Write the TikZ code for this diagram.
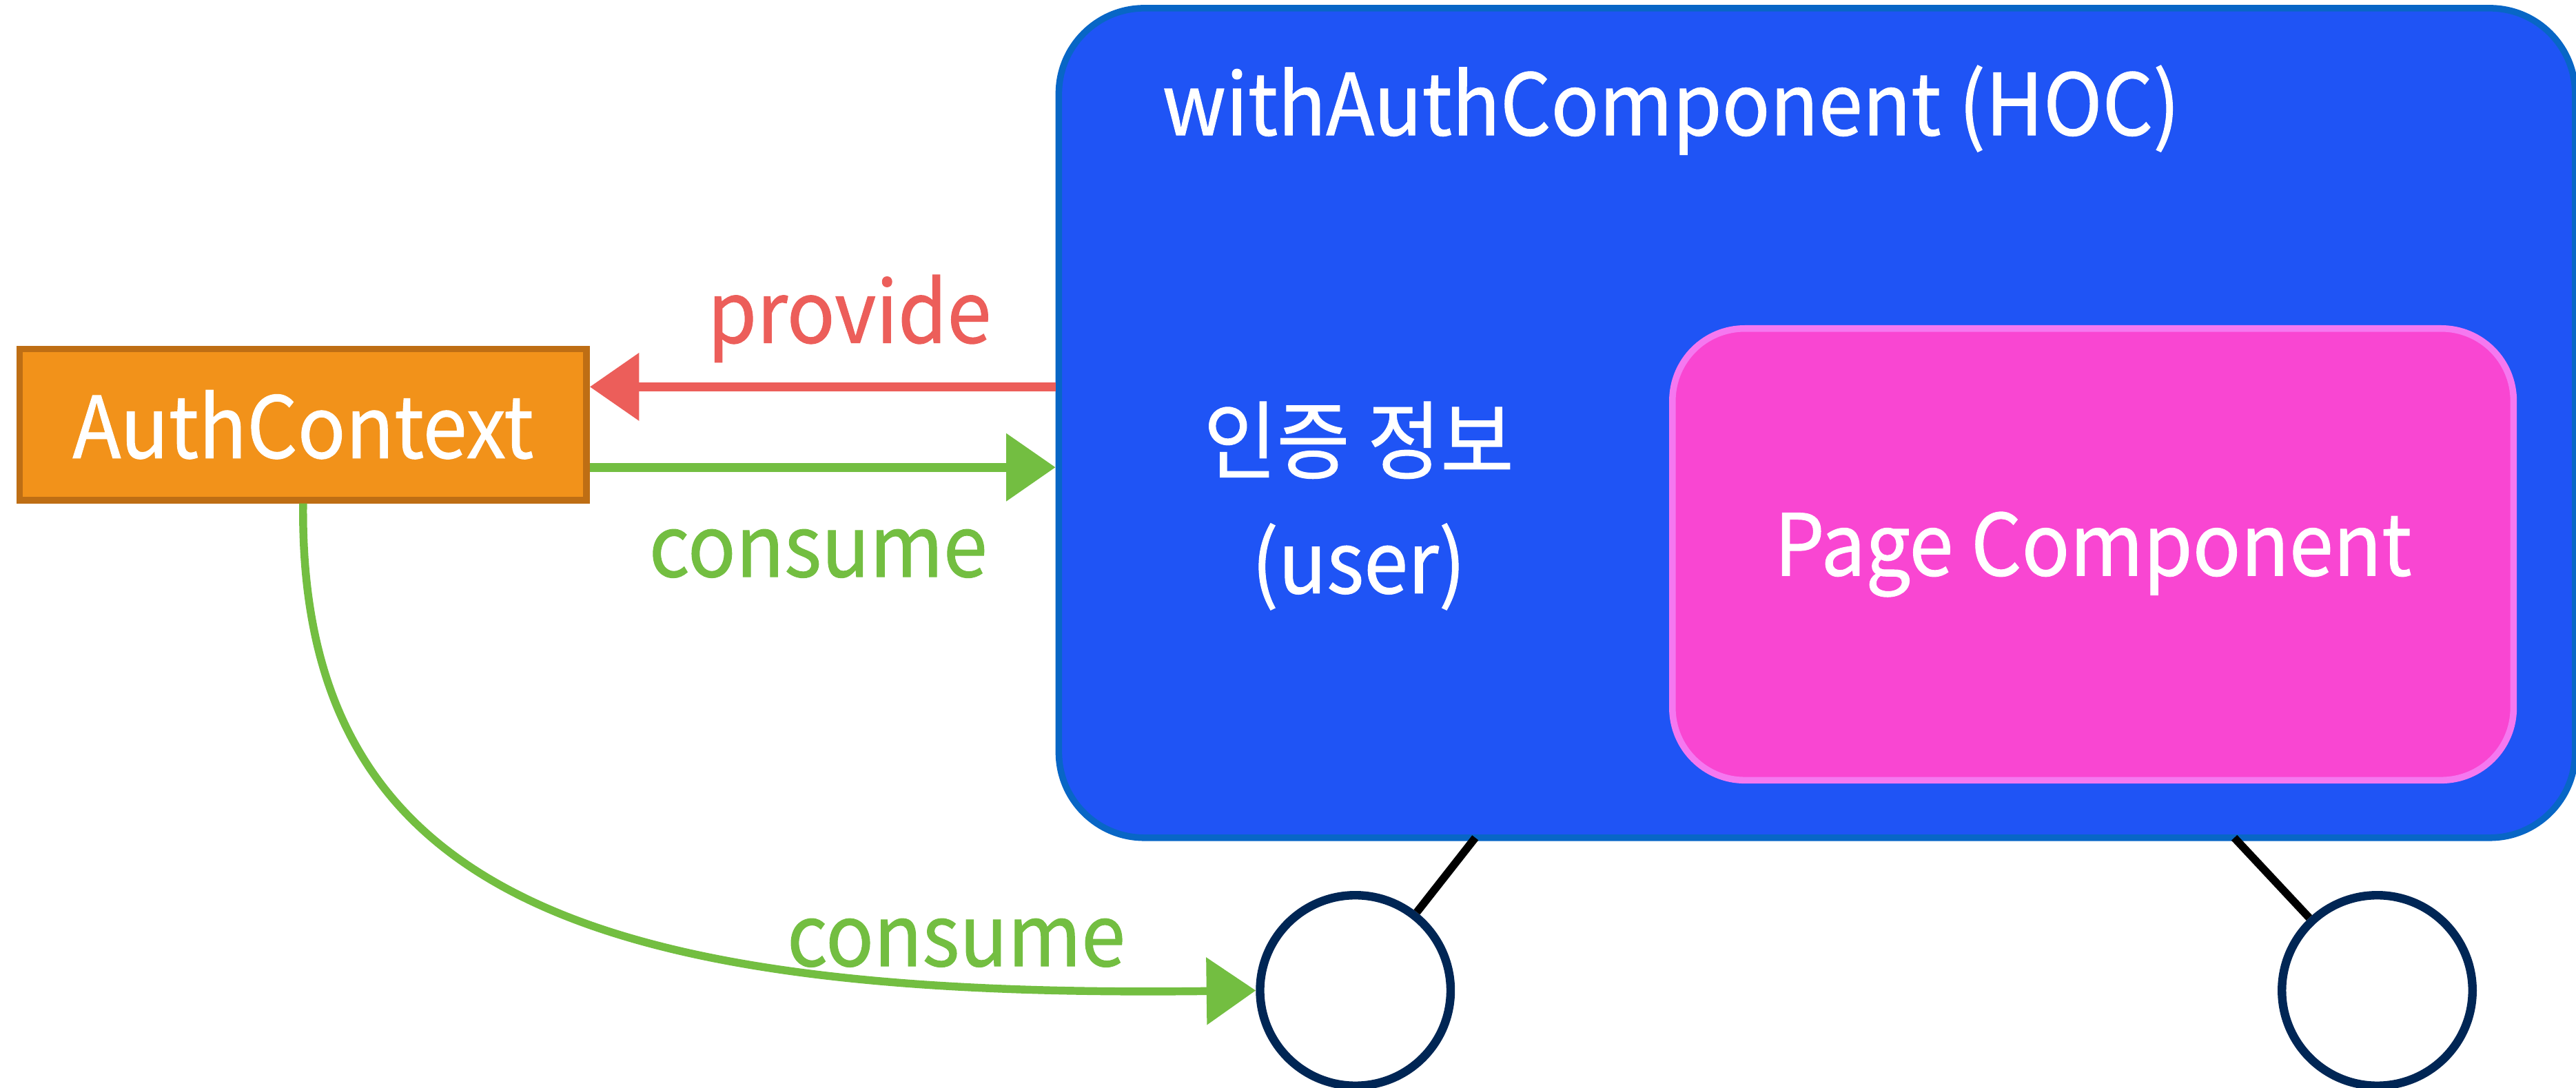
\documentclass[tikz,border=0pt]{standalone}
\usepackage{fontspec}
\setmainfont{Noto Sans CJK KR}[FakeStretch=0.93, FakeBold=0.8]
\usepackage{xcolor}
\usetikzlibrary{arrows.meta}

\definecolor{hocBlue}{RGB}{31,84,245}
\definecolor{hocEdge}{RGB}{8,102,198}
\definecolor{pagePink}{RGB}{249,70,210}
\definecolor{pageEdge}{RGB}{245,120,240}
\definecolor{ctxOrange}{RGB}{242,146,26}
\definecolor{ctxEdge}{RGB}{190,110,20}
\definecolor{provideRed}{RGB}{236,94,90}
\definecolor{consumeGreen}{RGB}{115,190,65}
\definecolor{wheelNavy}{RGB}{0,38,85}

\newcommand{\lblsize}{\fontsize{13}{16}\selectfont}

\tikzset{every picture/.style={line width=0.75pt}}
\tikzset{
  hocbox/.style={draw=hocEdge, fill=hocBlue, line width=1pt, rounded corners=13pt},
  pagebox/.style={draw=pageEdge, fill=pagePink, line width=1pt, rounded corners=11pt, text=white, font=\lblsize},
  ctxbox/.style={draw=ctxEdge, fill=ctxOrange, line width=1pt, text=white, font=\lblsize},
  textlbl/.style={inner sep=0pt, font=\lblsize},
  wheel/.style={circle, draw=wheelNavy, line width=1.3pt, minimum size=29pt, inner sep=0pt},
  providearrow/.style={draw=provideRed, line width=1.4pt, -{Triangle[length=7.5pt,width=10pt]}},
  consumearrow/.style={draw=consumeGreen, line width=1.4pt, -{Triangle[length=7.5pt,width=10pt]}},
  axle/.style={draw=black, line width=1.2pt}
}

\begin{document}
\begin{tikzpicture}[x=0.25pt,y=0.25pt,yscale=-1,xscale=1]
\useasboundingbox (0,0) rectangle (1568,662);

% HOC wrapper and the page inside it
\node[hocbox, minimum width=230.75pt, minimum height=126.25pt] (hoc) at (1106,257.5) {};
\node[pagebox, minimum width=128pt, minimum height=68.75pt] (page) at (1274,337.5) {Page Component};

% context box
\node[ctxbox, minimum width=86.25pt, minimum height=23pt] (ctx) at (184.5,258.5) {AuthContext};

% wheels
\node[wheel] (wheelL) at (825,603) {};
\node[wheel] (wheelR) at (1447,603) {};
\coordinate (axleL) at (898,510);
\coordinate (axleR) at (1360,510);
\draw[axle] (axleL) -- (wheelL);
\draw[axle] (axleR) -- (wheelR);

% provide / consume arrows (yshift follows yscale=-1)
\coordinate (provTip) at ([yshift=-5.75pt]ctx.east);
\coordinate (consTail) at ([yshift=6.5pt]ctx.east);
\draw[providearrow] (provTip -| hoc.west) -- (provTip);
\draw[consumearrow] (consTail) -- (consTail -| hoc.west);
\draw[consumearrow, line width=1.2pt] (ctx.south) .. controls (182,545) and (360,608) .. (wheelL.west);

% Text Node
\node[textlbl, anchor=west, text=white] (title) at (706,67) {withAuthComponent (HOC)};
% Text Node
\node[textlbl, text=white] (info) at (827,268) {인증 정보};
% Text Node
\node[textlbl, text=white] (user) at (827,345) {(user)};
% Text Node
\node[textlbl, text=provideRed] (provLbl) at (517,194) {provide};
% Text Node
\node[textlbl, text=consumeGreen] (consLbl) at (498,337) {consume};
% Text Node
\node[textlbl, text=consumeGreen] (consLblB) at (582,574) {consume};

\end{tikzpicture}
\end{document}
